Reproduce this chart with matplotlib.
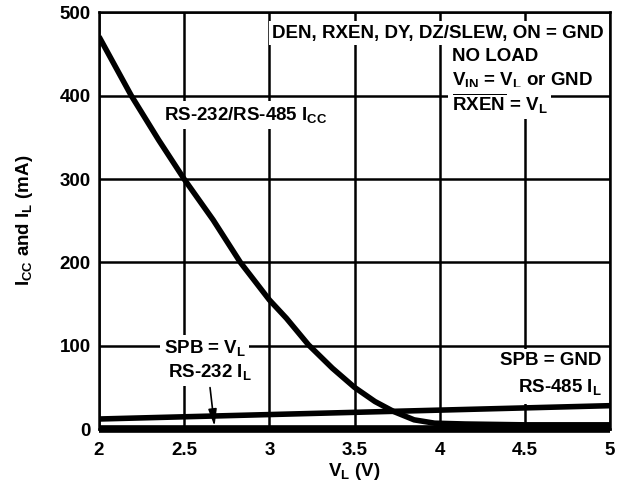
import matplotlib
matplotlib.use("Agg")
import matplotlib.pyplot as plt

plt.rcParams['font.family'] = ['Liberation Sans', 'DejaVu Sans']
plt.rcParams['font.weight'] = 'bold'
plt.rcParams['mathtext.fontset'] = 'custom'
plt.rcParams['mathtext.rm'] = 'Liberation Sans:bold'
plt.rcParams['mathtext.bf'] = 'Liberation Sans:bold'
plt.rcParams['mathtext.it'] = 'Liberation Sans:bold'
plt.rcParams['mathtext.default'] = 'rm'

# RS-232/RS-485 ICC curve
icc_v = [2.0, 2.19, 2.35, 2.5, 2.67, 2.83, 3.0, 3.1, 3.23, 3.37, 3.5,
         3.62, 3.73, 3.85, 3.97, 4.15, 4.5, 5.0]
icc_ma = [471, 400, 347, 300, 251, 200, 155, 133, 101, 73, 50,
          33, 21, 11, 7, 6, 5, 5]

# RS-485 IL (SPB = GND)
il485_v = [2.0, 5.0]
il485_ma = [12, 28]

# RS-232 IL (SPB = VL)
il232_v = [2.0, 5.0]
il232_ma = [-0.5, -0.5]

xticks = [2, 2.5, 3, 3.5, 4, 4.5, 5]
xtick_labels = ['2', '2.5', '3', '3.5', '4', '4.5', '5']
yticks = [0, 100, 200, 300, 400, 500]

fs = 13.5

fig = plt.figure(figsize=(6.29, 4.88), dpi=100)
ax = fig.add_axes([0.1574, 0.1209, 0.8124, 0.8535])

ax.plot(icc_v, icc_ma, color='black', lw=4, solid_capstyle='butt',
        solid_joinstyle='round', zorder=4)
ax.plot(il485_v, il485_ma, color='black', lw=4, solid_capstyle='butt', zorder=4)
ax.plot(il232_v, il232_ma, color='black', lw=5.5, solid_capstyle='butt', zorder=4, clip_on=False)

ax.set_xlim(2, 5)
ax.set_ylim(0, 500)
ax.set_xticks(xticks)
ax.set_xticklabels(xtick_labels)
ax.set_yticks(yticks)
ax.tick_params(axis='both', length=0, labelsize=fs)
ax.tick_params(axis='x', pad=9)
ax.tick_params(axis='y', pad=6)
ax.grid(True, color='black', lw=1.8)
ax.set_axisbelow(True)
for s in ax.spines.values():
    s.set_linewidth(1.8)

ax.set_xlabel(r'V$_\mathrm{L}$ (V)', fontsize=fs, fontweight='bold', labelpad=2)
ax.set_ylabel(r'I$_\mathrm{CC}$ and I$_\mathrm{L}$ (mA)', fontsize=fs, fontweight='bold', labelpad=18)

# text boxes sit over the grid but under the frame
box = dict(facecolor='white', edgecolor='none', pad=2.5)
kw = dict(fontsize=fs, fontweight='bold', zorder=2.2, bbox=box)

ax.text(3.99, 475, 'DEN, RXEN, DY, DZ/SLEW, ON = GND', ha='center', va='center', **kw)
ax.text(4.07, 447, 'NO LOAD', ha='left', va='center', **kw)
ax.text(4.07, 419, r'V$_\mathrm{IN}$ = V$_\mathrm{L}$ or GND', ha='left', va='center', **kw)
ax.text(4.07, 391, r'$\overline{\mathrm{RXEN}}$ = V$_\mathrm{L}$', ha='left', va='center', **kw)
ax.text(2.86, 377, r'RS-232/RS-485 I$_\mathrm{CC}$', ha='center', va='center', **kw)
ax.text(2.62, 97, r'SPB = V$_\mathrm{L}$', ha='center', va='center', **kw)
ax.text(2.65, 68, r'RS-232 I$_\mathrm{L}$', ha='center', va='center', **kw)
ax.text(4.95, 82, 'SPB = GND', ha='right', va='center', **kw)
ax.text(4.95, 50, r'RS-485 I$_\mathrm{L}$', ha='right', va='center',
        fontsize=fs, fontweight='bold', zorder=2.2,
        bbox=dict(facecolor='white', edgecolor='none', pad=4.5))

ax.annotate('', xy=(2.68, 0), xytext=(2.65, 53),
            arrowprops=dict(arrowstyle='-|>,head_width=0.25,head_length=1.0', color='black', lw=1.2),
            zorder=5)

fig.savefig('out.png', dpi=100)
